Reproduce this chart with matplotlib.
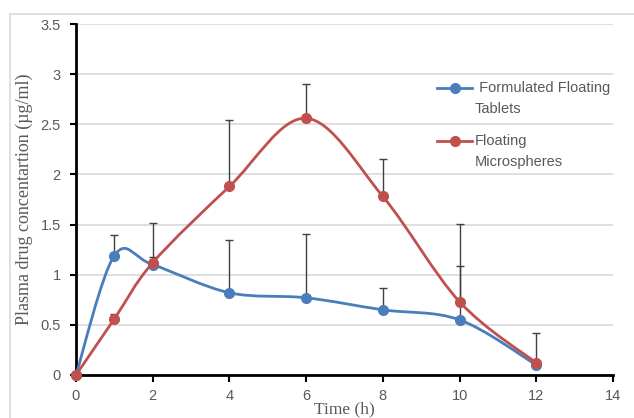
import numpy as np
import matplotlib.pyplot as plt
from matplotlib.path import Path
from matplotlib.patches import PathPatch, Rectangle
from matplotlib.lines import Line2D

# sampling times (h)
time = [0, 1, 2, 4, 6, 8, 10, 12]

# Formulated floating tablets
tab_mean = [0, 1.19, 1.10, 0.82, 0.77, 0.65, 0.55, 0.10]
tab_err = [0, 0.21, 0.08, 0.53, 0.64, 0.22, 0.54, 0]

# Floating microspheres
mic_mean = [0, 0.56, 1.12, 1.88, 2.56, 1.78, 0.73, 0.12]
mic_err = [0, 0.05, 0.40, 0.66, 0.34, 0.37, 0.78, 0.30]

series_names = [" Formulated Floating\nTablets", "Floating\nMicrospheres"]

xticks = [0, 2, 4, 6, 8, 10, 12, 14]
yticks = [0, 0.5, 1, 1.5, 2, 2.5, 3, 3.5]
ytick_labels = ["0", "0.5", "1", "1.5", "2", "2.5", "3", "3.5"]

blue = "#4a7ebb"
red = "#c0504d"
grey = "#595959"


def smooth_path(x, y):
    # Excel-like smoothed line: cubic bezier through every point
    pts = np.column_stack([x, y]).astype(float)
    n = len(pts)
    verts = [pts[0]]
    codes = [Path.MOVETO]
    for i in range(n - 1):
        p0 = pts[max(i - 1, 0)]
        p1 = pts[i]
        p2 = pts[i + 1]
        p3 = pts[min(i + 2, n - 1)]
        verts += [p1 + (p2 - p0) / 6, p2 - (p3 - p1) / 6, p2]
        codes += [Path.CURVE4] * 3
    return Path(verts, codes)


W, H = 634, 418
fig = plt.figure(figsize=(W / 100, H / 100), dpi=100)
ax = fig.add_axes([76 / W, 1 - 375 / H, (613 - 76) / W, (375 - 24) / H])

# chart area border
fig.patches.append(Rectangle((10 / W, -0.01), 1.0, 1 - 14 / H + 0.01,
                             transform=fig.transFigure, fill=False,
                             edgecolor="#d9d9d9", linewidth=1.2))

ax.set_xlim(0, 14)
ax.set_ylim(0, 3.5)
ax.set_yticks(yticks)
ax.set_yticklabels(ytick_labels)
ax.set_xticks(xticks)
ax.grid(axis="y", color="#d9d9d9", linewidth=1.2)
ax.set_axisbelow(True)

for s in ["top", "right"]:
    ax.spines[s].set_visible(False)
for s in ["left", "bottom"]:
    ax.spines[s].set_linewidth(2)
    ax.spines[s].set_color("black")

ax.tick_params(axis="x", direction="out", length=5, width=1.5, colors="black",
               labelcolor=grey, labelsize=10.5, pad=5)
ax.tick_params(axis="y", direction="out", length=4, width=1.5, colors="black",
               labelcolor=grey, labelsize=10.5, pad=7)
for lab in ax.get_xticklabels() + ax.get_yticklabels():
    lab.set_fontfamily("Liberation Sans")

for mean, err, col in [(tab_mean, tab_err, blue), (mic_mean, mic_err, red)]:
    ax.errorbar(time, mean, yerr=[np.zeros(len(err)), err], fmt="none",
                ecolor="#404040", elinewidth=1, capsize=3, capthick=1, zorder=2)
    ax.add_patch(PathPatch(smooth_path(time, mean), fill=False, edgecolor=col,
                           linewidth=2, zorder=3, clip_on=False))
    ax.plot(time, mean, "o", color=col, markersize=7, zorder=4, clip_on=False)

ax.set_ylabel("Plasma drug concentartion (µg/ml)", fontsize=13,
              family="Liberation Serif", color=grey, labelpad=5)
ax.set_xlabel("Time (h)", fontsize=12.5, family="Liberation Serif",
              color=grey, labelpad=-1)

# legend, drawn by hand so the handle sits on the first text line
for name, col, ypx in [(series_names[0], blue, 88), (series_names[1], red, 141)]:
    yf = 1 - ypx / H
    fig.add_artist(Line2D([437 / W, 472 / W], [yf, yf], color=col, linewidth=2,
                          transform=fig.transFigure))
    fig.add_artist(Line2D([455 / W], [yf], marker="o", markersize=7, color=col,
                          transform=fig.transFigure))
    fig.text(475 / W, 1 - (ypx - 7) / H, name, fontsize=10.5, color=grey,
             family="Liberation Sans", va="top", ha="left", linespacing=1.65)

fig.savefig("out.png", dpi=100)
